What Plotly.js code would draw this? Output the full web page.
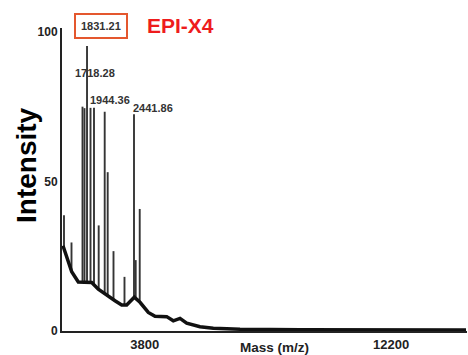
<!DOCTYPE html>
<html>
<head>
<meta charset="utf-8">
<script src="https://cdn.plot.ly/plotly-3.0.1.min.js"></script>
<style>html,body{margin:0;padding:0;background:#fff;}#chart{width:468px;height:355px;}</style>
</head>
<body>
<div id="chart"></div>
<script>
// Peak positions (m/z), peak top intensities and the baseline level under each peak
const peakMass = [1048, 1304, 1679, 1747, 1833, 1952, 2071, 2231, 2436, 2538, 2736, 3111, 3435, 3493, 3630];
const peakTop  = [38.7, 29.6, 75.0, 74.5, 95.3, 74.6, 74.6, 35.3, 73.3, 53.1, 26.7, 18.1, 72.5, 23.7, 40.8];
const peakBase = [27.0, 20.0, 16.4, 16.4, 16.3, 16.2, 15.2, 13.9, 12.3, 11.8, 10.4, 8.7, 11.2, 11.0, 9.7];

// Baseline (noise envelope) curve
const baseMass = [1014, 1140, 1311, 1536, 1993, 2218, 2446, 2787, 3016, 3186, 3445, 3640, 3923, 4151, 4550, 4775, 5004, 5232, 5686, 6139, 7050, 9096, 14756];
const baseInt  = [28.5, 24.8, 19.8, 16.4, 16.2, 14.0, 12.3, 10.1, 8.7, 8.7, 11.3, 9.6, 6.2, 4.9, 4.8, 3.4, 4.2, 2.6, 1.4, 0.9, 0.6, 0.4, 0.3];

// Labels
const peakLabels = ["1718.28", "1944.36", "2441.86"];
const boxedLabel = "1831.21";
const sampleName = "EPI-X4";
const xTicks = [3800, 12200];
const yTicks = [0, 50, 100];

// Build the stick-spectrum as segments separated by nulls
const sx = [], sy = [];
for (let i = 0; i < peakMass.length; i++) {
  sx.push(peakMass[i], peakMass[i], null);
  sy.push(peakBase[i], peakTop[i], null);
}

const traces = [
  {x: sx, y: sy, type: 'scatter', mode: 'lines', line: {color: '#353535', width: 1.9}, hoverinfo: 'skip', cliponaxis: false},
  {x: baseMass, y: baseInt, type: 'scatter', mode: 'lines', line: {color: '#111', width: 3.5}, hoverinfo: 'skip'}
];

const FAM = 'Liberation Sans, Arial, sans-serif';
const tf = {family: FAM, size: 11, color: '#333', weight: 'bold'};

const layout = {
  width: 468, height: 355,
  margin: {l: 62, r: 1, t: 28, b: 24, pad: 0},
  paper_bgcolor: '#fff', plot_bgcolor: '#fff',
  showlegend: false,
  xaxis: {
    range: [980, 14790], showgrid: false, zeroline: false,
    showline: true, linecolor: '#222', linewidth: 2,
    tickvals: xTicks, ticktext: xTicks.map(String), ticks: '',
    tickfont: {family: FAM, size: 13, color: '#222', weight: 'bold'}
  },
  yaxis: {
    range: [0, 101.3], showgrid: false, zeroline: false,
    showline: true, linecolor: '#222', linewidth: 2,
    tickvals: yTicks, ticktext: yTicks.map(String), ticks: '',
    tickfont: {family: FAM, size: 12, color: '#222', weight: 'bold'}
  },
  annotations: [
    {xref: 'x', yref: 'y', x: 2105, y: 86.1, text: peakLabels[0], showarrow: false, font: tf},
    {xref: 'x', yref: 'y', x: 2617, y: 77.3, text: peakLabels[1], showarrow: false, font: tf},
    {xref: 'x', yref: 'y', x: 4066, y: 74.6, text: peakLabels[2], showarrow: false, font: tf},
    {xref: 'paper', yref: 'paper', x: (101 - 62) / 405, y: (331 - 26) / 303, xanchor: 'center', yanchor: 'middle',
     text: boxedLabel, showarrow: false, font: tf,
     bordercolor: '#e4572e', borderwidth: 2, borderpad: 5, bgcolor: '#fff'},
    {xref: 'paper', yref: 'paper', x: (180 - 62) / 405, y: (331 - 25.5) / 303, xanchor: 'center', yanchor: 'middle',
     text: sampleName, showarrow: false,
     font: {family: FAM, size: 21, color: '#ee1c1c', weight: 'bold'}},
    {xref: 'paper', yref: 'paper', x: (274 - 62) / 405, y: -(347 - 331) / 303, xanchor: 'center', yanchor: 'middle',
     text: 'Mass (m/z)', showarrow: false,
     font: {family: FAM, size: 13.5, color: '#222', weight: 'bold'}},
    {xref: 'paper', yref: 'paper', x: -(62 - 26) / 405, y: (331 - 165) / 303, xanchor: 'center', yanchor: 'middle',
     text: 'Intensity', textangle: -90, showarrow: false,
     font: {family: FAM, size: 28, color: '#000', weight: 'bold'}}
  ]
};

Plotly.newPlot('chart', traces, layout, {staticPlot: true, displayModeBar: false});
</script>
</body>
</html>
